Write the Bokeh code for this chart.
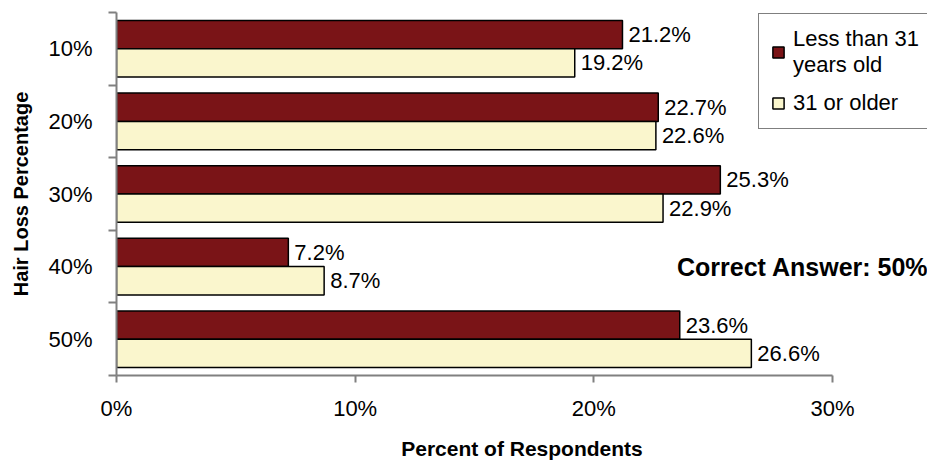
from bokeh.plotting import figure
from bokeh.models import (ColumnDataSource, Range1d, FixedTicker, PrintfTickFormatter,
                          Legend, LegendItem, Label)
from bokeh.core.properties import value
from bokeh.embed import file_html
from bokeh.resources import INLINE

categories = ["10%", "20%", "30%", "40%", "50%"]
less_than_31 = [21.2, 22.7, 25.3, 7.2, 23.6]
older_31 = [19.2, 22.6, 22.9, 8.7, 26.6]
x_ticks = [0, 10, 20, 30]
series_names = ["Less than 31\nyears old", "31 or older"]

RED = "#7A1417"
YELLOW = "#FAF6CD"
FONT = "Liberation Sans"
FS = "22px"

n = len(categories)
centers = [i + 0.5 for i in range(n)]
y_red = [c - 0.195 for c in centers]
y_yel = [c + 0.195 for c in centers]

# axis spans 0..30 over 716px; frame extends further right to host the legend
AXIS_PX = 716
FRAME_W = 811
x_end = 30 * FRAME_W / AXIS_PX

p = figure(frame_width=FRAME_W, frame_height=363, output_backend="svg", toolbar_location=None,
           x_range=Range1d(0, x_end), y_range=Range1d(n, 0),
           min_border_left=116, min_border_right=0, min_border_top=12, min_border_bottom=72)
p.outline_line_color = None
p.xgrid.visible = False
p.ygrid.visible = False
p.background_fill_color = "white"
p.border_fill_color = "white"

src_r = ColumnDataSource(dict(y=y_red, v=less_than_31, t=[f"{v:.1f}%" for v in less_than_31]))
src_y = ColumnDataSource(dict(y=y_yel, v=older_31, t=[f"{v:.1f}%" for v in older_31]))

r1 = p.hbar(y="y", right="v", left=0, height=0.39, source=src_r,
            fill_color=RED, line_color="black", line_width=1.5)
r2 = p.hbar(y="y", right="v", left=0, height=0.39, source=src_y,
            fill_color=YELLOW, line_color="black", line_width=1.5)

for s in (src_r, src_y):
    p.text(x="v", y="y", text="t", source=s, x_offset=6, text_align="left",
           text_baseline="middle", text_font=value(FONT), text_font_size=FS, text_color="black")

# axes
xa = p.xaxis[0]
xa.ticker = FixedTicker(ticks=x_ticks)
xa.bounds = (0, 30)
xa.formatter = PrintfTickFormatter(format="%d%%")
xa.axis_line_color = "#808080"
xa.axis_line_width = 2
xa.major_tick_line_color = "#808080"
xa.major_tick_line_width = 2
xa.major_tick_out = 7
xa.major_tick_in = 0
xa.minor_tick_line_color = None
xa.major_label_text_font = FONT
xa.major_label_text_font_size = FS
xa.major_label_text_color = "black"
xa.major_label_standoff = 13
xa.axis_label = "Percent of Respondents"
xa.axis_label_text_font = FONT
xa.axis_label_text_font_size = "21px"
xa.axis_label_text_font_style = "bold"
xa.axis_label_text_color = "black"
xa.axis_label_standoff = 13

ya = p.yaxis[0]
ya.ticker = FixedTicker(ticks=centers, minor_ticks=list(range(n + 1)))
ya.major_label_overrides = {c: lab for c, lab in zip(centers, categories)}
ya.axis_line_color = "#808080"
ya.axis_line_width = 2
ya.major_tick_line_color = None
ya.major_tick_out = 0
ya.major_tick_in = 0
ya.minor_tick_line_color = "#808080"
ya.minor_tick_line_width = 2
ya.minor_tick_out = 8
ya.minor_tick_in = 0
ya.major_label_text_font = FONT
ya.major_label_text_font_size = FS
ya.major_label_text_color = "black"
ya.major_label_standoff = 16
ya.axis_label = "Hair Loss Percentage"
ya.axis_label_text_font = FONT
ya.axis_label_text_font_size = "20px"
ya.axis_label_text_font_style = "bold"
ya.axis_label_text_color = "black"
ya.axis_label_standoff = 13

legend = Legend(items=[LegendItem(label=series_names[0], renderers=[r1]),
                       LegendItem(label=series_names[1], renderers=[r2])],
                location=(642, 246), border_line_color="black", border_line_width=1.5,
                background_fill_color="white", background_fill_alpha=1,
                label_text_font=FONT, label_text_font_size=FS, label_text_color="black",
                label_text_line_height=1.0,
                glyph_width=14, glyph_height=14, padding=12, spacing=12,
                label_standoff=8, margin=0)
p.add_layout(legend, "center")

p.add_layout(Label(x=30, y=3.5, x_offset=96, text="Correct Answer: 50%", text_align="right",
                   text_baseline="middle", text_font=FONT, text_font_size="25px",
                   text_font_style="bold", text_color="black"))

open("out.html", "w").write(file_html(p, INLINE))
